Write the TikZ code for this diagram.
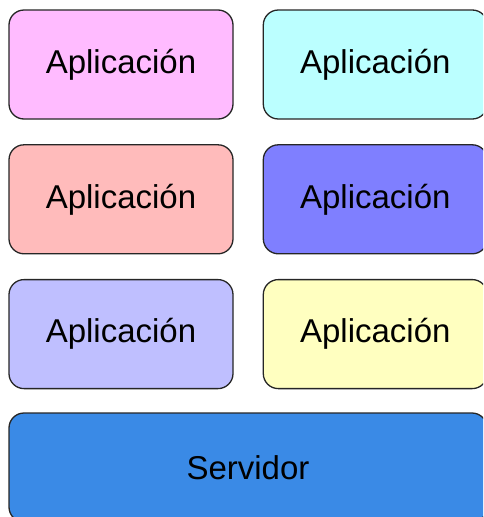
\documentclass[tikz,border=0pt]{standalone}
\usepackage{fontspec}
\setmainfont{Liberation Sans}
\usepackage{tikz}
\usetikzlibrary{positioning}
\definecolor{appPink}{HTML}{FFBBFF}
\definecolor{appCyan}{HTML}{BBFFFF}
\definecolor{appRose}{HTML}{FFBBBB}
\definecolor{appBlue}{HTML}{7F7FFF}
\definecolor{appLila}{HTML}{BFBFFF}
\definecolor{appYellow}{HTML}{FFFFC0}
\definecolor{srvBlue}{HTML}{3A8AE6}

\begin{document}
\begin{tikzpicture}[x=1pt,y=-1pt,
    app/.style={draw=black!85,line width=1.3pt,rounded corners=15pt,
      minimum width=224pt,minimum height=109pt,
      font=\fontsize{33}{39}\selectfont}]
      \useasboundingbox (0,0) rectangle (483,517);
      \clip (0,0) rectangle (483,517);
      \node[app,fill=appPink] (app1) at (121,64.5) {Aplicación};
      \node[app,fill=appCyan,right=29pt of app1] (app2) {Aplicación};
      \node[app,fill=appRose,below=24.5pt of app1] (app3) {Aplicación};
      \node[app,fill=appBlue,right=29pt of app3] (app4) {Aplicación};
      \node[app,fill=appLila,below=24.5pt of app3] (app5) {Aplicación};
      \node[app,fill=appYellow,right=29pt of app5] (app6) {Aplicación};
      \node[app,fill=srvBlue,minimum width=478pt] (srv) at (248,467.5) {Servidor};
    \end{tikzpicture}
\end{document}
